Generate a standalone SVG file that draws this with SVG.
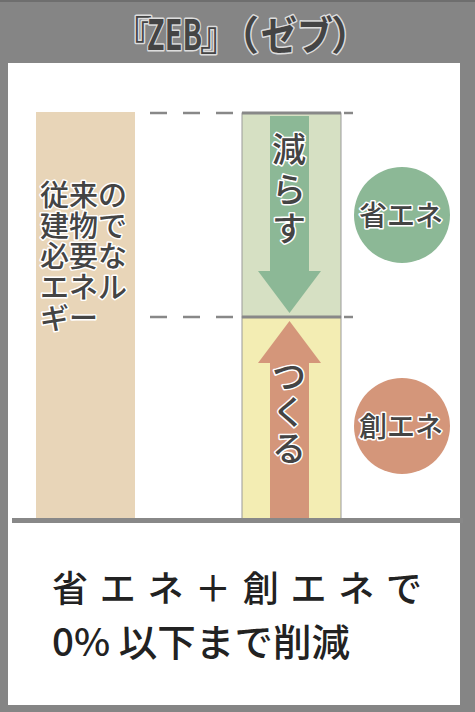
<svg xmlns="http://www.w3.org/2000/svg" width="475" height="712" viewBox="0 0 475 712">
<style>
.lbl{font-family:"Noto Sans CJK JP","Noto Sans",sans-serif;fill:#444;stroke:#fff;stroke-width:3;paint-order:stroke;stroke-linejoin:round;font-weight:500}
.ttl{font-family:"Noto Sans CJK JP","Noto Sans",sans-serif;fill:#444;stroke:#ddd;stroke-width:3;paint-order:stroke;stroke-linejoin:round;font-weight:bold}
.big{font-family:"Noto Sans CJK JP","Noto Sans",sans-serif;fill:#222;font-weight:500}
.dash{stroke:#888;stroke-width:2.5;stroke-dasharray:17 16;fill:none}
</style>
<rect x="0" y="0" width="475" height="712" fill="#858585"/>
<rect x="0" y="0" width="475" height="2" fill="#6e6e6e"/>
<rect x="8" y="63" width="452" height="642" fill="#ffffff"/>
<g id="title">
<text class="ttl" y="50" font-size="40"><tspan x="112">『</tspan><tspan x="147" font-size="42" textLength="55" lengthAdjust="spacingAndGlyphs">ZEB</tspan><tspan x="200">』</tspan><tspan x="219">（</tspan><tspan x="261" textLength="72" lengthAdjust="spacingAndGlyphs">ゼブ</tspan><tspan x="331">）</tspan></text>
</g>
<g id="connectors">
<line class="dash" x1="150" y1="113" x2="242" y2="113"/>
<line class="dash" x1="344" y1="113" x2="360" y2="113" style="stroke-dasharray:9 20"/>
<line class="dash" x1="150" y1="317" x2="242" y2="317"/>
<line class="dash" x1="344" y1="317" x2="360" y2="317" style="stroke-dasharray:9 20"/>
</g>
<g id="conventional">
<rect x="36" y="112" width="99" height="408" fill="#e8d5b8"/>
<text class="lbl" font-size="29" x="40"><tspan x="40" y="206">従来の</tspan><tspan x="40" y="237">建物で</tspan><tspan x="40" y="267">必要な</tspan><tspan x="40" y="298">エネル</tspan><tspan x="40" y="329">ギー</tspan></text>
</g>
<g id="reduce">
<rect x="242" y="113" width="99" height="204" fill="#d6e0c3" stroke="#9a9a9a" stroke-width="1"/>
<polygon points="270,116 309,116 309,271 321,271 289.5,313 258,271 270,271" fill="#8cb896"/>
<text class="lbl" font-size="34" text-anchor="middle"><tspan x="289" y="162">減</tspan><tspan x="289" y="202">ら</tspan><tspan x="289" y="241">す</tspan></text>
</g>
<g id="create">
<rect x="242" y="317" width="99" height="203" fill="#f3edb3" stroke="#9a9a9a" stroke-width="1"/>
<polygon points="289.5,321 321,363 309,363 309,520 270,520 270,363 258,363" fill="#d4967a"/>
<text class="lbl" font-size="34" text-anchor="middle"><tspan x="289" y="389">つ</tspan><tspan x="289" y="425">く</tspan><tspan x="289" y="461">る</tspan></text>
</g>
<g id="lines">
<line x1="242" y1="113" x2="341" y2="113" stroke="#888" stroke-width="3"/>
<line x1="242" y1="317" x2="341" y2="317" stroke="#888" stroke-width="3"/>
<rect x="12" y="518" width="451" height="5" fill="#888"/>
</g>
<g id="shoene">
<circle cx="402" cy="215" r="48" fill="#8cb896"/>
<text class="lbl" x="401" y="226" font-size="28" text-anchor="middle">省エネ</text>
</g>
<g id="soene">
<circle cx="402" cy="426" r="48" fill="#d4967a"/>
<text class="lbl" x="401" y="437" font-size="28" text-anchor="middle">創エネ</text>
</g>
<g id="summary">
<text class="big" x="52" y="602" font-size="36" letter-spacing="11.7">省エネ＋創エネで</text>
<text class="big" x="52" y="656" font-size="38" textLength="298" lengthAdjust="spacingAndGlyphs">0% 以下まで削減</text>
</g>
</svg>
